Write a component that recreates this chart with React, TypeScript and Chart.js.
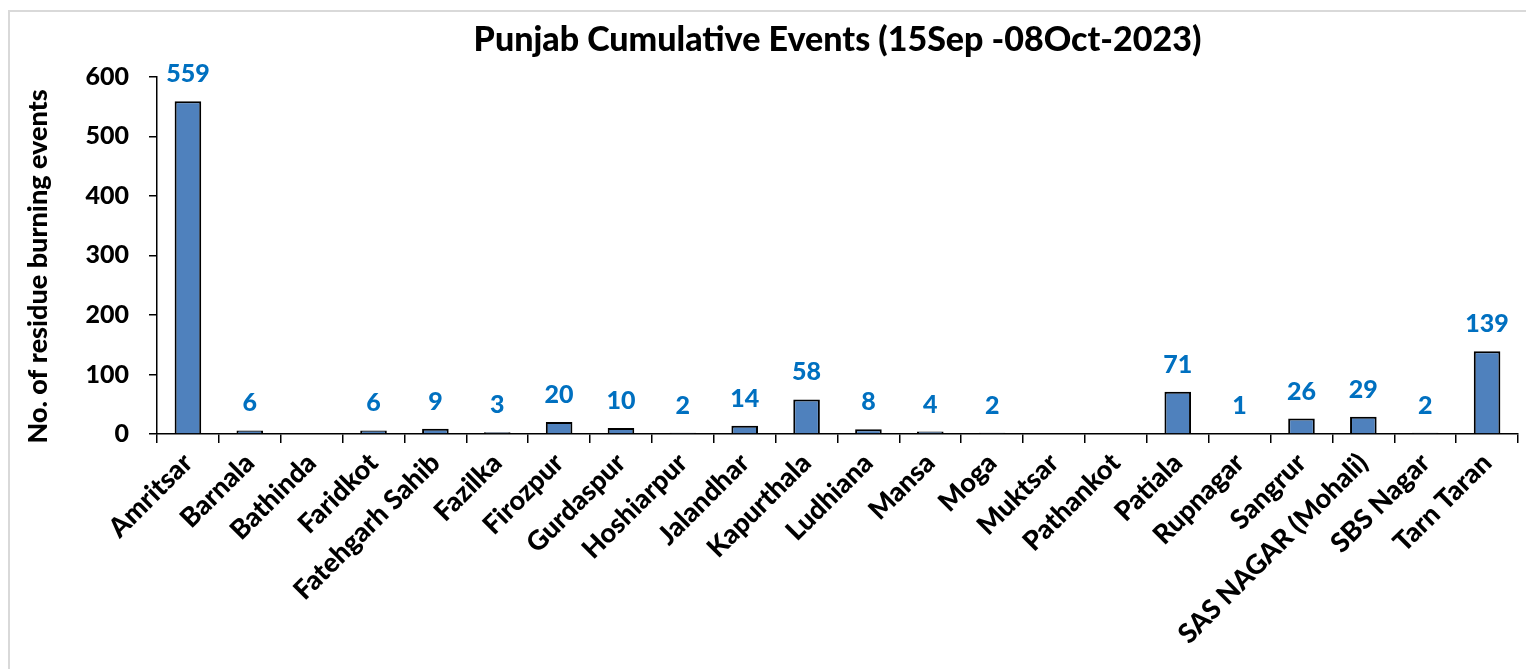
import React, { useEffect, useRef } from "react";
import { Chart, registerables } from "chart.js";

Chart.register(...registerables);

const districts = [
  "Amritsar", "Barnala", "Bathinda", "Faridkot", "Fatehgarh Sahib", "Fazilka",
  "Firozpur", "Gurdaspur", "Hoshiarpur", "Jalandhar", "Kapurthala", "Ludhiana",
  "Mansa", "Moga", "Muktsar", "Pathankot", "Patiala", "Rupnagar", "Sangrur",
  "SAS NAGAR (Mohali)", "SBS Nagar", "Tarn Taran",
];
const events: (number | null)[] = [
  559, 6, null, 6, 9, 3, 20, 10, 2, 14, 58, 8, 4, 2, null, null, 71, 1, 26, 29, 2, 139,
];
const yTicks = [0, 100, 200, 300, 400, 500, 600];
const yTitle = "No. of residue burning events";

const FONT = "Lato, 'Open Sans', sans-serif";
const W = 900;

const labelPlugin = {
  id: "barLabels",
  afterDatasetsDraw(chart: any) {
    const ctx = chart.ctx;
    const meta = chart.getDatasetMeta(0);
    ctx.save();
    ctx.fillStyle = "#0070C0";
    ctx.font = `${W} 25px ${FONT}`;
    ctx.textAlign = "center";
    ctx.textBaseline = "alphabetic";
    meta.data.forEach((bar: any, i: number) => {
      const v = events[i];
      if (v === null || v === undefined) return;
      ctx.fillText(String(v), bar.x, bar.y - 19);
    });
    ctx.restore();
    // y axis title
    const ca = chart.chartArea;
    ctx.save();
    ctx.fillStyle = "#000";
    ctx.font = `${W} 27px ${FONT}`;
    ctx.textAlign = "center";
    ctx.textBaseline = "middle";
    ctx.translate(38, (ca.top + ca.bottom) / 2 + 11);
    ctx.rotate(-Math.PI / 2);
    ctx.fillText(yTitle, 0, 0);
    ctx.restore();
  },
};

export default function App() {
  const ref = useRef<HTMLCanvasElement>(null);
  useEffect(() => {
    if (!ref.current) return;
    const chart = new Chart(ref.current, {
      type: "bar",
      data: {
        labels: districts,
        datasets: [
          {
            data: events,
            backgroundColor: "#4F81BD",
            borderColor: "#000000",
            borderWidth: 2,
            barPercentage: 0.43,
            categoryPercentage: 1,
          },
        ],
      },
      options: {
        responsive: false,
        animation: false,
        layout: { padding: { left: 0, right: 8, top: 0, bottom: 0 } },
        plugins: {
          legend: { display: false },
          tooltip: { enabled: false },
          title: {
            display: true,
            text: "Punjab Cumulative Events (15Sep -08Oct-2023)",
            color: "#000",
            fullSize: false,
            font: { family: FONT, size: 34, weight: W as any },
            padding: { top: 20, bottom: 16 },
          },
        },
        scales: {
          x: {
            offset: true,
            grid: {
              offset: true,
              drawOnChartArea: false,
              drawTicks: true,
              tickLength: 9,
              color: "#000",
              lineWidth: 1.5,
            },
            border: { display: true, color: "#000", width: 1.5 },
            ticks: {
              color: "#000",
              font: { family: FONT, size: 27, weight: W as any },
              maxRotation: 45,
              minRotation: 45,
              autoSkip: false,
              padding: 4,
            },
            afterFit(scale: any) {
              scale.height = 235;
            },
          },
          y: {
            min: 0,
            max: 600,
            afterBuildTicks(scale: any) {
              scale.ticks = yTicks.map((v) => ({ value: v }));
            },
            grid: {
              drawOnChartArea: false,
              drawTicks: true,
              tickLength: 8,
              color: "#000",
              lineWidth: 1.5,
            },
            border: { display: true, color: "#000", width: 1.5 },
            ticks: {
              color: "#000",
              font: { family: FONT, size: 25, weight: W as any },
              padding: 20,
            },
            afterFit(scale: any) {
              scale.width = 157;
            },
          },
        },
      },
      plugins: [labelPlugin],
    });
    return () => chart.destroy();
  }, []);

  return (
    <div style={{ position: "fixed", left: 0, top: 0, width: 1526, height: 669, background: "#fff", overflow: "hidden" }}>
      <div
        style={{
          position: "absolute",
          left: 8,
          top: 10,
          width: 1600,
          height: 700,
          borderLeft: "2px solid #D9D9D9",
          borderTop: "2px solid #D9D9D9",
        }}
      />
      <canvas ref={ref} width={1526} height={669} style={{ position: "absolute", left: 0, top: 0 }} />
    </div>
  );
}
